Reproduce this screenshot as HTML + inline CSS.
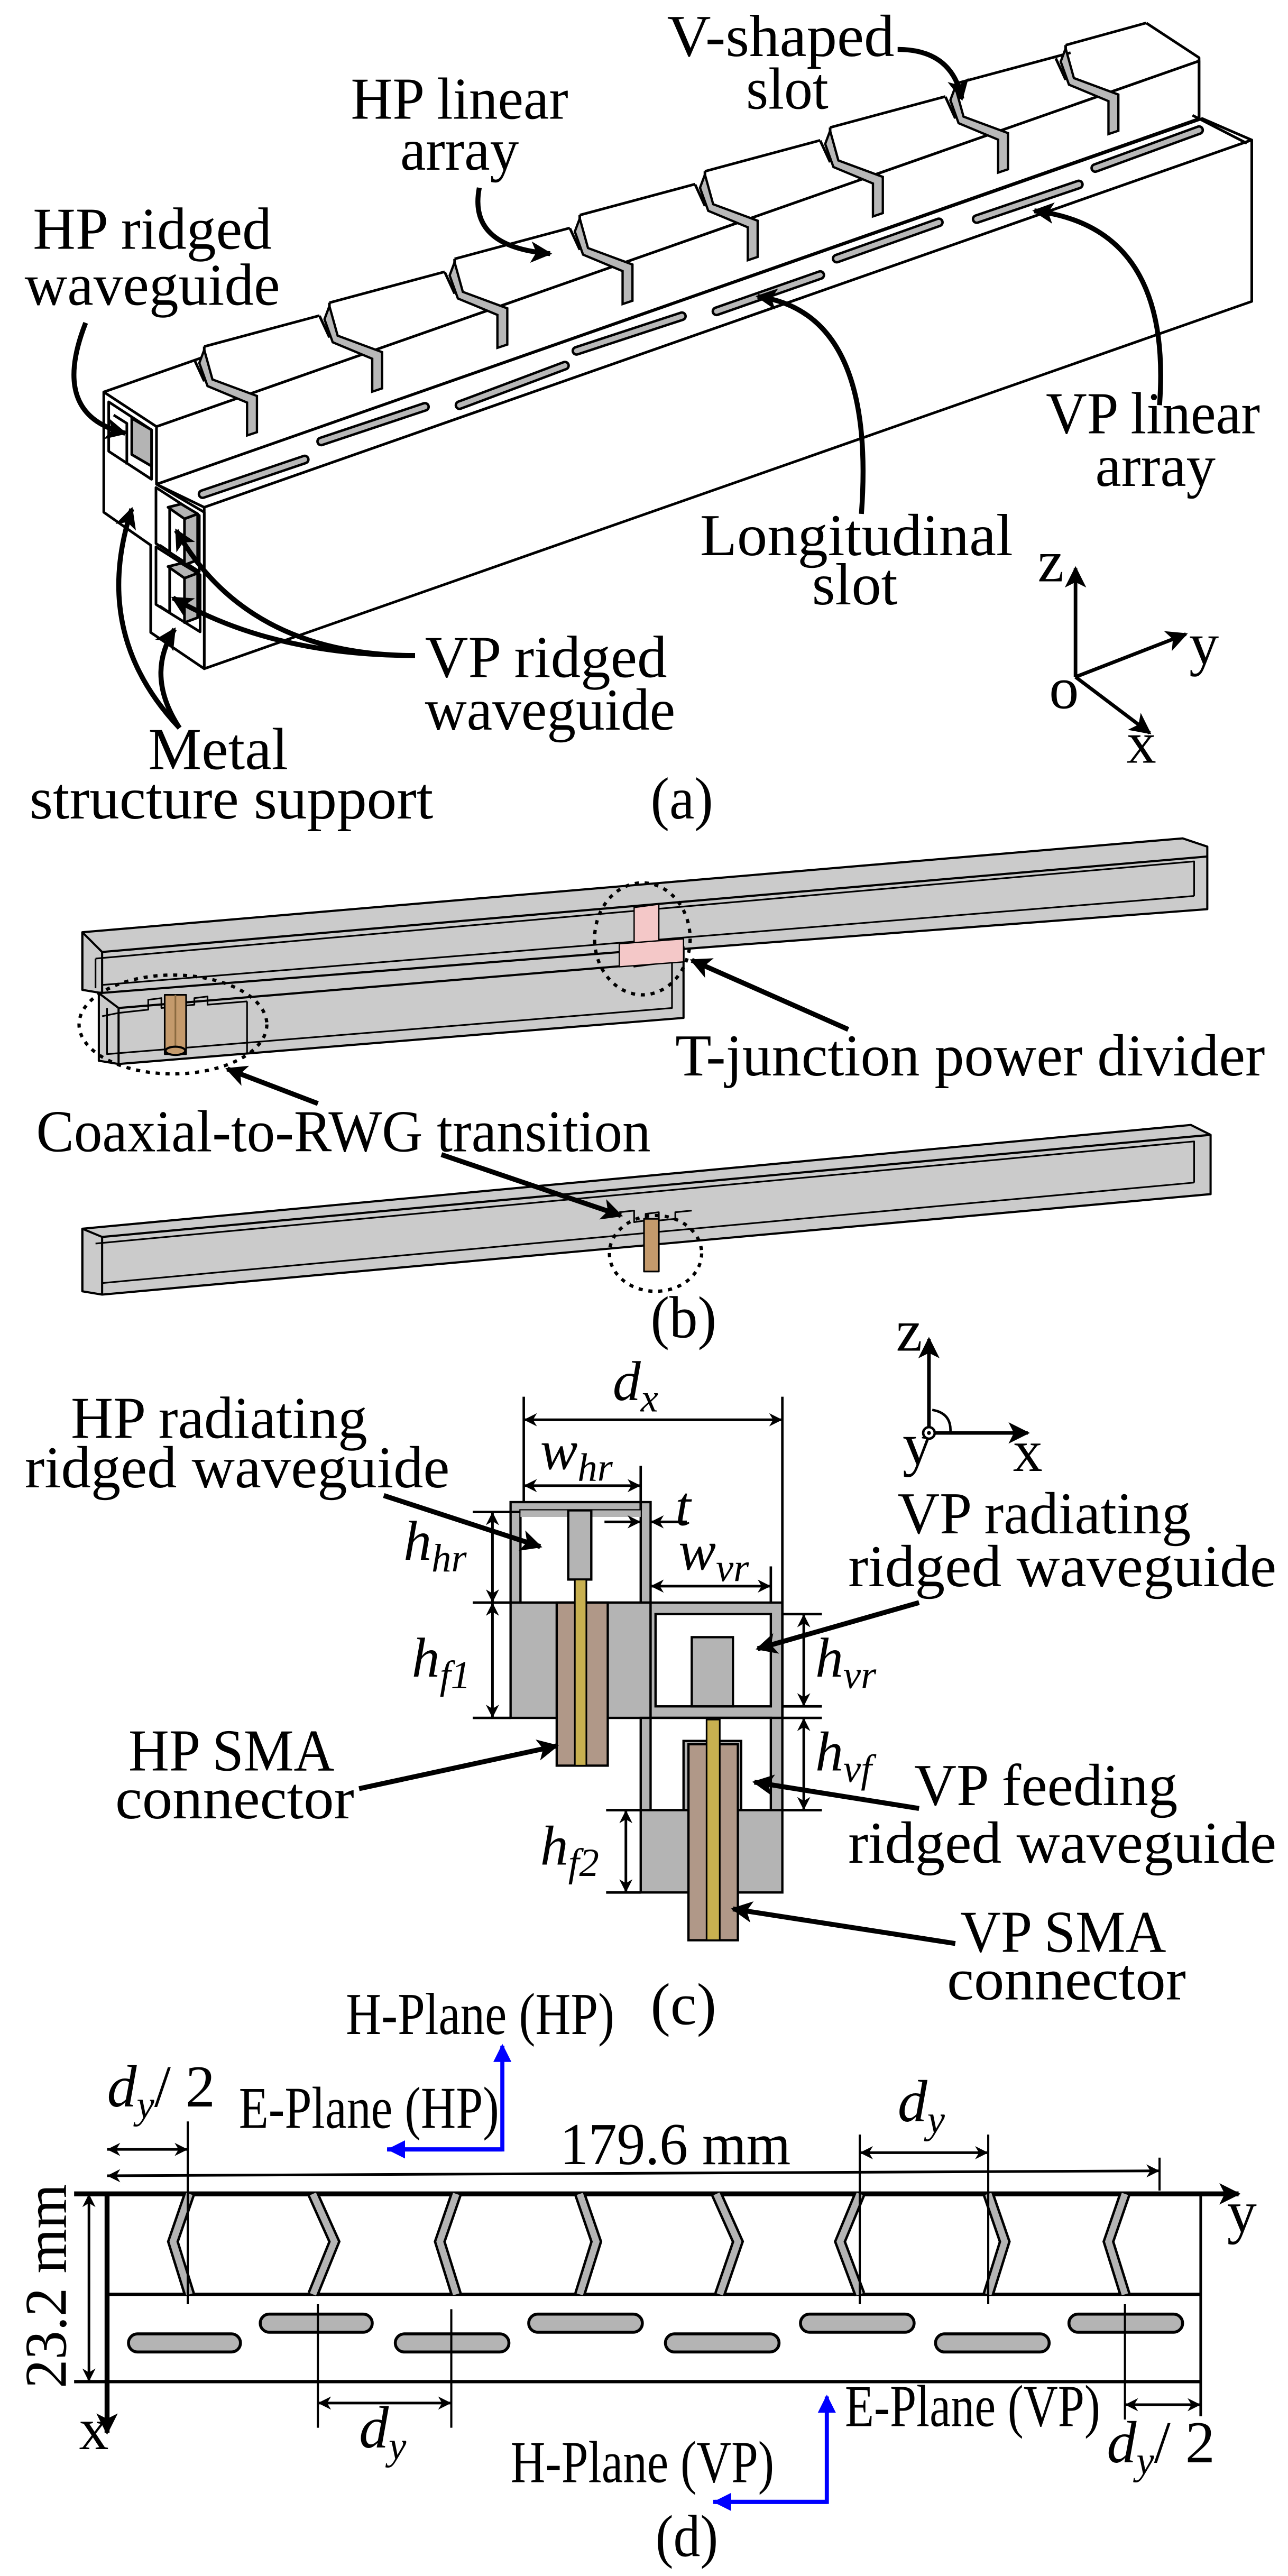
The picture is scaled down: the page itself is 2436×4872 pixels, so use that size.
<!DOCTYPE html>
<html><head><meta charset="utf-8">
<style>
html,body{margin:0;padding:0;background:#fff;}
svg{display:block;font-family:"Liberation Serif","Times New Roman",Times,"DejaVu Serif",serif;}
svg text{font-family:"Liberation Serif","Times New Roman",Times,"DejaVu Serif",serif;fill:#000;}
</style></head>
<body>
<svg xmlns="http://www.w3.org/2000/svg" xmlns:xlink="http://www.w3.org/1999/xlink" width="2436" height="4872" viewBox="0 0 782 1564" font-family="Liberation Serif, Times New Roman, serif">
<defs>
<marker id="ah" viewBox="0 0 10 10" refX="9" refY="5" markerWidth="17" markerHeight="13" markerUnits="userSpaceOnUse" orient="auto"><path d="M0,0 L10,5 L0,10 L2.5,5z" fill="#000"/></marker>
<marker id="da" viewBox="0 0 10 10" refX="10" refY="5" markerWidth="11" markerHeight="8" markerUnits="userSpaceOnUse" orient="auto-start-reverse"><path d="M0,0 L10,5 L0,10 L3,5z" fill="#000"/></marker>
<marker id="ba" viewBox="0 0 10 10" refX="9" refY="5" markerWidth="14" markerHeight="11" markerUnits="userSpaceOnUse" orient="auto"><path d="M0,0 L10,5 L0,10z" fill="#0000ff"/></marker>
<g id="blk">
<path d="M6,-8 L76,-26.8" fill="none" stroke="#000" stroke-width="1.6"/>
<path d="M0,0 L6,13 L6,-8" fill="none" stroke="#000" stroke-width="1.6"/>
<polygon points="6,-6 11,12 38,22 38,44 32,46 32,26 8,16 3,2" fill="#b8b8b8" stroke="#000" stroke-width="1.4"/>
</g>
<g id="blk2">
<path d="M6,-8 L55,-21.5" fill="none" stroke="#000" stroke-width="1.6"/>
<path d="M0,0 L6,13 L6,-8" fill="none" stroke="#000" stroke-width="1.6"/>
<polygon points="6,-6 11,12 38,22 38,44 32,46 32,26 8,16 3,2" fill="#b8b8b8" stroke="#000" stroke-width="1.4"/>
</g>
</defs>

<!-- ============ (a) ============ -->
<g stroke="#000" stroke-width="1.6" stroke-linejoin="round">
<polygon points="95,294 730,72 760,85 124,308" fill="#fff"/>
<polygon points="124,308 760,85 760,183 124,406" fill="#fff"/>
<polygon points="95,259 728,37 728,72 95,294" fill="#fff"/>
<polygon points="63,238 696,14 728,37 95,259" fill="#fff" stroke="none"/>
<line x1="63" y1="238" x2="123" y2="217"/>
<line x1="95" y1="259" x2="728" y2="37"/>
<polyline points="696,14 728,35 728,72" fill="none"/>
<polyline points="724,70 757,87" fill="none"/>
<polygon points="63,238 95,259 95,294 124,311 124,406 91.5,384 91.5,331 63,311" fill="#fff"/>
<polygon points="66,244 92,261 92,291 66,274" fill="#fff"/>
<polygon points="80,254 92,261 92,283 80,276" fill="#b4b4b4"/>
<polyline points="69,252 77,257 77,282" fill="none"/>
<polygon points="94.7,296 121,313 121,347 94.7,330" fill="#fff"/>
<polygon points="94.7,332 121.5,349 121.5,383.6 94.7,367" fill="#fff"/>
<polygon points="112,315 120,312 120,340 112,343" fill="#b4b4b4"/>
<polygon points="102,308 112,315 120,312 110,306" fill="#b4b4b4"/>
<polygon points="112,351 120,348 120,375 112,378" fill="#b4b4b4"/>
<polygon points="102,344 112,351 120,348 110,342" fill="#b4b4b4"/>
<polyline points="103,308 103,335 97,331" fill="none"/>
<polyline points="103,344 103,372 97,368" fill="none"/>
<line x1="91.5" y1="331" x2="91.5" y2="384"/>
</g>
<use xlink:href="#blk" transform="translate(118,218.4)"/>
<use xlink:href="#blk" transform="translate(194,191.8)"/>
<use xlink:href="#blk" transform="translate(270,165.2)"/>
<use xlink:href="#blk" transform="translate(346,138.6)"/>
<use xlink:href="#blk" transform="translate(422,112)"/>
<use xlink:href="#blk" transform="translate(498,85.4)"/>
<use xlink:href="#blk" transform="translate(574,58.8)"/>
<use xlink:href="#blk2" transform="translate(641,35.4)"/>
<g stroke-linecap="round" fill="none">
<path d="M123,300 L185,279 M195,268 L258,247 M279,246 L343,222 M350,213 L414,192 M435,189 L498,167 M508,157 L570,135 M593,133 L655,112 M665,102 L728,79" stroke="#000" stroke-width="6"/>
<path d="M123,300 L185,279 M195,268 L258,247 M279,246 L343,222 M350,213 L414,192 M435,189 L498,167 M508,157 L570,135 M593,133 L655,112 M665,102 L728,79" stroke="#b8b8b8" stroke-width="3"/>
</g>
<g fill="none" stroke="#000" stroke-width="3" marker-end="url(#ah)">
<path d="M545,30 Q578,30 584,60"/>
<path d="M291,114 Q284,150 334,154"/>
<path d="M52,196 Q30,252 76,263"/>
<path d="M523,312 Q532,190 460,180"/>
<path d="M704,246 Q712,138 628,128"/>
<path d="M252,398 Q150,398 107,322"/>
<path d="M252,398 Q165,398 105,363"/>
<path d="M109,442 Q55,385 80,309"/>
<path d="M109,442 Q88,410 106,382"/>
</g>
<g font-size="36">
<text x="405" y="34" textLength="138" lengthAdjust="spacingAndGlyphs">V-shaped</text>
<text x="453" y="66" textLength="50" lengthAdjust="spacingAndGlyphs">slot</text>
<text x="213" y="72" textLength="132" lengthAdjust="spacingAndGlyphs">HP linear</text>
<text x="243" y="103" textLength="72" lengthAdjust="spacingAndGlyphs">array</text>
<text x="20" y="151" textLength="145" lengthAdjust="spacingAndGlyphs">HP ridged</text>
<text x="15" y="185" textLength="155" lengthAdjust="spacingAndGlyphs">waveguide</text>
<text x="635" y="263" textLength="130" lengthAdjust="spacingAndGlyphs">VP linear</text>
<text x="665" y="295" textLength="73" lengthAdjust="spacingAndGlyphs">array</text>
<text x="425" y="337" textLength="190" lengthAdjust="spacingAndGlyphs">Longitudinal</text>
<text x="493" y="367" textLength="52" lengthAdjust="spacingAndGlyphs">slot</text>
<text x="258" y="411" textLength="147" lengthAdjust="spacingAndGlyphs">VP ridged</text>
<text x="258" y="443" textLength="152" lengthAdjust="spacingAndGlyphs">waveguide</text>
<text x="90" y="467" textLength="85" lengthAdjust="spacingAndGlyphs">Metal</text>
<text x="18" y="497" textLength="245" lengthAdjust="spacingAndGlyphs">structure support</text>
<text x="395" y="497" textLength="38" lengthAdjust="spacingAndGlyphs">(a)</text>
<text x="630" y="353">z</text>
<text x="637" y="430">o</text>
<text x="722" y="403">y</text>
<text x="684" y="463">x</text>
</g>
<g stroke="#000" stroke-width="2.2" fill="none" marker-end="url(#ah)">
<line x1="653" y1="411" x2="653" y2="345"/>
<line x1="653" y1="411" x2="720" y2="385"/>
<line x1="653" y1="411" x2="698" y2="445"/>
</g>

<!-- ============ (b) ============ -->
<g stroke="#000" stroke-width="1.3" stroke-linejoin="round">
<polygon points="50,566 718,509 733,514 733,552 62,603 50,601" fill="#cbcbcb"/>
<polyline points="50,566 62,578 733,520" fill="none"/>
<line x1="62" y1="578" x2="62" y2="603"/>
<polyline points="58,582 725,523 725,544" fill="none" stroke-width="1"/>
<line x1="58" y1="582" x2="58" y2="600" stroke-width="1"/>
<line x1="62" y1="598" x2="725" y2="544" stroke-width="1"/>
<line x1="50" y1="566" x2="50" y2="601"/>
<polygon points="60,603 415,575 415,618 72,646 60,644" fill="#cbcbcb"/>
<polyline points="60,603 72,612 408,584 415,575" fill="none"/>
<polyline points="65,612 65,640 408,612 408,584" fill="none" stroke-width="1"/>
<line x1="72" y1="612" x2="72" y2="646"/>
<polyline points="62,617 72,615 90,613 90,607 98,606 98,612 118,610 118,606 126,605 126,610 150,608" fill="none" stroke-width="1"/>
<line x1="150" y1="608" x2="150" y2="640" stroke-width="1"/>
<rect x="100" y="604" width="13" height="36" fill="#c49a6c" stroke-width="1"/>
<line x1="106.5" y1="604" x2="106.5" y2="640" stroke="#8a6a40" stroke-width="1"/>
<ellipse cx="106.5" cy="638" rx="6" ry="2.5" fill="#c49a6c"/>
<polygon points="385,551 400,549 400,585 385,587" fill="#f4c8c8" stroke-width="0.8"/>
<polygon points="376,573 415,570 415,584 376,587" fill="#f4c8c8" stroke-width="0.8"/>
<polygon points="50,746 723,683 735,689 735,725 62,786 50,784" fill="#cbcbcb"/>
<polyline points="50,746 62,751 735,689" fill="none"/>
<line x1="62" y1="751" x2="62" y2="786"/>
<polyline points="58,755 725,693 725,718" fill="none" stroke-width="1"/>
<line x1="62" y1="779" x2="725" y2="718" stroke-width="1"/>
<line x1="50" y1="746" x2="50" y2="784"/>
<polyline points="376,736 385,735 385,742 392,741 392,737 400,736 400,741 410,740 410,736 420,735" fill="none" stroke-width="1"/>
<rect x="391" y="740" width="9" height="32" fill="#c49a6c" stroke-width="1"/>
</g>
<g fill="none" stroke="#000" stroke-width="2" stroke-dasharray="2.5,3.5">
<ellipse cx="390" cy="570" rx="29" ry="34"/>
<ellipse cx="105" cy="622" rx="57" ry="30"/>
<ellipse cx="398" cy="761" rx="28" ry="23"/>
</g>
<g fill="none" stroke="#000" stroke-width="3" marker-end="url(#ah)">
<line x1="515" y1="625" x2="420" y2="583"/>
<line x1="193" y1="670" x2="138" y2="649"/>
<line x1="268" y1="701" x2="377" y2="738"/>
</g>
<g font-size="36">
<text x="410" y="653" textLength="358" lengthAdjust="spacingAndGlyphs">T-junction power divider</text>
<text x="22" y="699" textLength="373" lengthAdjust="spacingAndGlyphs">Coaxial-to-RWG transition</text>
<text x="395" y="812" textLength="40" lengthAdjust="spacingAndGlyphs">(b)</text>
</g>

<!-- ============ (c) ============ -->
<g stroke="#000" stroke-width="1.4">
<rect x="310" y="912" width="85" height="61" fill="#b4b4b4"/>
<rect x="316" y="917" width="73" height="56" fill="#fff"/>
<rect x="316" y="917" width="73" height="4" fill="#b4b4b4" stroke="none"/>
<rect x="345" y="917" width="14" height="42" fill="#b4b4b4"/>
<rect x="310" y="973" width="85" height="70" fill="#b4b4b4"/>
<rect x="395" y="973" width="80" height="70" fill="#b4b4b4"/>
<rect x="398" y="980" width="70" height="56" fill="#fff"/>
<rect x="420" y="994" width="25" height="42" fill="#b4b4b4"/>
<rect x="389" y="1043" width="86" height="56" fill="#b4b4b4"/>
<rect x="395" y="1043" width="73" height="56" fill="#fff"/>
<rect x="415" y="1057" width="35" height="42" fill="#b4b4b4"/>
<rect x="389" y="1099" width="86" height="50" fill="#b4b4b4"/>
<rect x="338" y="973" width="31" height="99" fill="#b09888"/>
<rect x="349" y="959" width="7" height="113" fill="#c8b050" stroke-width="1"/>
<rect x="418" y="1059" width="30" height="119" fill="#b09888"/>
<rect x="429" y="1044" width="8" height="134" fill="#c8b050" stroke-width="1"/>
</g>
<g stroke="#000" stroke-width="1.5" fill="none">
<line x1="318" y1="848" x2="318" y2="912"/>
<line x1="475" y1="848" x2="475" y2="1043"/>
<line x1="389" y1="890" x2="389" y2="917"/>
<line x1="287" y1="918" x2="316" y2="918"/>
<line x1="287" y1="973" x2="310" y2="973"/>
<line x1="287" y1="1043" x2="310" y2="1043"/>
<line x1="468" y1="951" x2="468" y2="973"/>
<line x1="475" y1="980" x2="499" y2="980"/>
<line x1="475" y1="1036" x2="499" y2="1036"/>
<line x1="475" y1="1043" x2="499" y2="1043"/>
<line x1="475" y1="1099" x2="499" y2="1099"/>
<line x1="368" y1="1099" x2="389" y2="1099"/>
<line x1="368" y1="1149" x2="389" y2="1149"/>
</g>
<g stroke="#000" stroke-width="1.6" fill="none" marker-start="url(#da)" marker-end="url(#da)">
<line x1="318" y1="862" x2="475" y2="862"/>
<line x1="318" y1="902" x2="389" y2="902"/>
<line x1="395" y1="963" x2="468" y2="963"/>
<line x1="299" y1="918" x2="299" y2="973"/>
<line x1="299" y1="973" x2="299" y2="1043"/>
<line x1="488" y1="980" x2="488" y2="1036"/>
<line x1="488" y1="1043" x2="488" y2="1099"/>
<line x1="380" y1="1099" x2="380" y2="1149"/>
</g>
<g stroke="#000" stroke-width="1.6" fill="none" marker-end="url(#da)">
<line x1="367" y1="924" x2="389" y2="924"/>
<line x1="417" y1="924" x2="395" y2="924"/>
</g>
<g fill="none" stroke="#000" stroke-width="3" marker-end="url(#ah)">
<line x1="233" y1="908" x2="328" y2="939"/>
<line x1="558" y1="973" x2="460" y2="1001"/>
<line x1="218" y1="1086" x2="338" y2="1060"/>
<line x1="558" y1="1098" x2="458" y2="1082"/>
<line x1="580" y1="1180" x2="445" y2="1159"/>
</g>
<g font-style="italic" font-size="34">
<text x="372" y="850">d<tspan font-size="24" dy="7">x</tspan></text>
<text x="328" y="892">w<tspan font-size="24" dy="7">hr</tspan></text>
<text x="410" y="926">t</text>
<text x="245" y="947">h<tspan font-size="24" dy="7">hr</tspan></text>
<text x="250" y="1018">h<tspan font-size="24" dy="7">f1</tspan></text>
<text x="412" y="953">w<tspan font-size="24" dy="7">vr</tspan></text>
<text x="495" y="1018">h<tspan font-size="24" dy="7">vr</tspan></text>
<text x="495" y="1075">h<tspan font-size="24" dy="7">vf</tspan></text>
<text x="328" y="1132">h<tspan font-size="24" dy="7">f2</tspan></text>
</g>
<g font-size="36">
<text x="43" y="873" textLength="180" lengthAdjust="spacingAndGlyphs">HP radiating</text>
<text x="15" y="903" textLength="258" lengthAdjust="spacingAndGlyphs">ridged waveguide</text>
<text x="545" y="931" textLength="178" lengthAdjust="spacingAndGlyphs">VP radiating</text>
<text x="515" y="963" textLength="260" lengthAdjust="spacingAndGlyphs">ridged waveguide</text>
<text x="78" y="1075" textLength="125" lengthAdjust="spacingAndGlyphs">HP SMA</text>
<text x="70" y="1104" textLength="145" lengthAdjust="spacingAndGlyphs">connector</text>
<text x="555" y="1096" textLength="160" lengthAdjust="spacingAndGlyphs">VP feeding</text>
<text x="515" y="1131" textLength="260" lengthAdjust="spacingAndGlyphs">ridged waveguide</text>
<text x="583" y="1185" textLength="125" lengthAdjust="spacingAndGlyphs">VP SMA</text>
<text x="575" y="1214" textLength="145" lengthAdjust="spacingAndGlyphs">connector</text>
<text x="395" y="1229" textLength="40" lengthAdjust="spacingAndGlyphs">(c)</text>
<text x="544" y="820">z</text>
<text x="548" y="889">y</text>
<text x="615" y="893">x</text>
</g>
<g stroke="#000" stroke-width="2.2" fill="none" marker-end="url(#ah)">
<line x1="564" y1="870" x2="564" y2="813"/>
<line x1="564" y1="870" x2="624" y2="870"/>
</g>
<circle cx="564" cy="870" r="3.5" fill="#fff" stroke="#000" stroke-width="1.5"/>
<circle cx="564" cy="870" r="1.2" fill="#000"/>
<path d="M566,856 Q578,858 577,870" fill="none" stroke="#000" stroke-width="1.5"/>

<!-- ============ (d) ============ -->
<g stroke="#000" fill="none">
<line x1="65" y1="1393" x2="729" y2="1393" stroke-width="2"/>
<line x1="45" y1="1446" x2="729" y2="1446" stroke-width="2"/>
<line x1="729" y1="1332" x2="729" y2="1467" stroke-width="1.6"/>
<line x1="45" y1="1332" x2="752" y2="1332" stroke-width="3" marker-end="url(#ah)"/>
<line x1="65" y1="1332" x2="65" y2="1477" stroke-width="3" marker-end="url(#ah)"/>
</g>
<g fill="none" stroke-linejoin="miter">
<path d="M115,1332 L105,1361 L115,1393 M190,1332 L203,1361 L190,1393 M277,1332 L267,1361 L277,1393 M352,1332 L362,1361 L352,1393 M435,1332 L448,1361 L437,1393 M522,1332 L510,1361 L522,1393 M600,1332 L610,1361 L600,1393 M683,1332 L673,1361 L683,1393" stroke="#000" stroke-width="7"/>
<path d="M115,1332 L105,1361 L115,1393 M190,1332 L203,1361 L190,1393 M277,1332 L267,1361 L277,1393 M352,1332 L362,1361 L352,1393 M435,1332 L448,1361 L437,1393 M522,1332 L510,1361 L522,1393 M600,1332 L610,1361 L600,1393 M683,1332 L673,1361 L683,1393" stroke="#b4b4b4" stroke-width="4"/>
</g>
<g fill="#b4b4b4" stroke="#000" stroke-width="1.8">
<rect x="78" y="1417" width="68" height="11" rx="5.5"/>
<rect x="158" y="1405" width="68" height="11" rx="5.5"/>
<rect x="240" y="1417" width="69" height="11" rx="5.5"/>
<rect x="321" y="1405" width="69" height="11" rx="5.5"/>
<rect x="404" y="1417" width="69" height="11" rx="5.5"/>
<rect x="486" y="1405" width="69" height="11" rx="5.5"/>
<rect x="568" y="1417" width="69" height="11" rx="5.5"/>
<rect x="649" y="1405" width="69" height="11" rx="5.5"/>
</g>
<g stroke="#000" stroke-width="1.3">
<line x1="114" y1="1288" x2="114" y2="1399"/>
<line x1="522" y1="1296" x2="522" y2="1399"/>
<line x1="600" y1="1296" x2="600" y2="1399"/>
<line x1="704" y1="1310" x2="704" y2="1330"/>
<line x1="193" y1="1399" x2="193" y2="1474"/>
<line x1="274" y1="1402" x2="274" y2="1474"/>
<line x1="683" y1="1399" x2="683" y2="1469"/>
</g>
<g stroke="#000" stroke-width="1.6" fill="none" marker-start="url(#da)" marker-end="url(#da)">
<line x1="65" y1="1305" x2="114" y2="1305"/>
<line x1="65" y1="1321" x2="704" y2="1318"/>
<line x1="522" y1="1307" x2="600" y2="1307"/>
<line x1="193" y1="1459" x2="274" y2="1459"/>
<line x1="683" y1="1460" x2="729" y2="1460"/>
<line x1="54" y1="1332" x2="54" y2="1446"/>
</g>
<g stroke="#0000ff" stroke-width="2.5" fill="none">
<polyline points="235,1305 305,1305 305,1242" marker-end="url(#ba)"/>
<line x1="305" y1="1305" x2="236" y2="1305" marker-end="url(#ba)"/>
<polyline points="433,1519 502,1519 502,1455" marker-end="url(#ba)"/>
<line x1="502" y1="1519" x2="434" y2="1519" marker-end="url(#ba)"/>
</g>
<g font-size="36">
<text x="210" y="1235" textLength="163" lengthAdjust="spacingAndGlyphs">H-Plane (HP)</text>
<text x="145" y="1292" textLength="158" lengthAdjust="spacingAndGlyphs">E-Plane (HP)</text>
<text x="340" y="1314" textLength="140" lengthAdjust="spacingAndGlyphs">179.6 mm</text>
<text x="513" y="1473" textLength="155" lengthAdjust="spacingAndGlyphs">E-Plane (VP)</text>
<text x="310" y="1507" textLength="160" lengthAdjust="spacingAndGlyphs">H-Plane (VP)</text>
<text x="398" y="1552" textLength="38" lengthAdjust="spacingAndGlyphs">(d)</text>
<text x="745" y="1355">y</text>
<text x="48" y="1487">x</text>
<text transform="translate(40,1450) rotate(-90)" textLength="124" lengthAdjust="spacingAndGlyphs">23.2 mm</text>
<text x="65" y="1279"><tspan font-style="italic">d</tspan><tspan font-style="italic" font-size="24" dy="7">y</tspan><tspan dy="-7">/ 2</tspan></text>
<text x="545" y="1288"><tspan font-style="italic">d</tspan><tspan font-style="italic" font-size="24" dy="7">y</tspan></text>
<text x="218" y="1486"><tspan font-style="italic">d</tspan><tspan font-style="italic" font-size="24" dy="7">y</tspan></text>
<text x="672" y="1495"><tspan font-style="italic">d</tspan><tspan font-style="italic" font-size="24" dy="7">y</tspan><tspan dy="-7">/ 2</tspan></text>
</g>
</svg>
</body></html>
